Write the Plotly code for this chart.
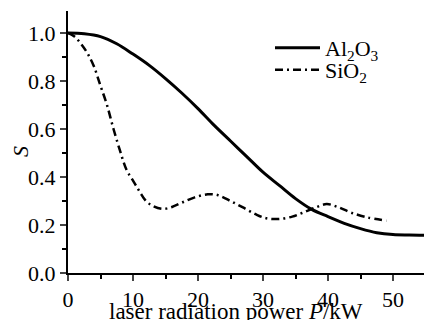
import plotly.graph_objects as go

# Al2O3 (solid)
al_x = [0, 2.5, 5, 7.5, 10, 12.5, 15, 17.5, 20, 22.5, 25, 27.5, 30, 32.5, 35, 37.5, 40, 42.5, 45, 47.5, 50, 52.5, 55]
al_y = [1.0, 0.997, 0.985, 0.955, 0.912, 0.865, 0.81, 0.75, 0.685, 0.615, 0.55, 0.485, 0.42, 0.365, 0.31, 0.265, 0.235, 0.207, 0.185, 0.168, 0.16, 0.158, 0.157]

# SiO2 (dash-dot)
si_x = [0, 1, 2, 3, 4, 5, 6, 7, 8, 9, 10, 11, 12, 13, 14.5, 16, 17.5, 19.5, 21.5, 23, 25, 27, 29, 30.5, 32.5, 34.5, 36, 38, 39.8, 41.5, 43.5, 46, 49]
si_y = [1.0, 0.985, 0.955, 0.915, 0.86, 0.78, 0.7, 0.6, 0.51, 0.43, 0.385, 0.34, 0.3, 0.28, 0.267, 0.275, 0.293, 0.315, 0.328, 0.325, 0.3, 0.272, 0.243, 0.228, 0.225, 0.235, 0.25, 0.272, 0.287, 0.275, 0.252, 0.232, 0.218]

x_ticks = [0, 10, 20, 30, 40, 50]
y_ticks = [0.0, 0.2, 0.4, 0.6, 0.8, 1.0]

x_title = "laser radiation power <i>P</i>/kW"
y_title = "<i>S</i>"

FONT = "Liberation Serif"
L, R, T, B = 68, 0, 11, 47
W, H = 424, 320
PW, PH = W - L - R, H - T - B

fig = go.Figure()
fig.add_trace(go.Scatter(x=al_x, y=al_y, mode="lines", name="Al<sub>2</sub>O<sub>3</sub>",
                         line=dict(color="black", width=3, shape="spline"), legend="legend"))
fig.add_trace(go.Scatter(x=si_x, y=si_y, mode="lines", name="SiO<sub>2</sub>",
                         line=dict(color="black", width=2.5, shape="spline", dash="8px,4px,2px,4px"),
                         legend="legend2"))

leg_common = dict(xanchor="left", yanchor="middle", bgcolor="rgba(0,0,0,0)",
                  font=dict(family=FONT, size=22), itemwidth=45, borderwidth=0)

fig.update_layout(
    width=W, height=H,
    margin=dict(l=L, r=R, t=T, b=B, autoexpand=False),
    paper_bgcolor="white", plot_bgcolor="white",
    font=dict(family=FONT, size=22, color="black"),
    showlegend=True,
    legend=dict(x=(270 - L) / PW, y=(273 - 48) / PH, **leg_common),
    legend2=dict(x=(270 - L) / PW, y=(273 - 70) / PH, **leg_common),
    annotations=[
        dict(text=x_title, xref="paper", yref="paper", x=(236 - L) / PW, y=-B / PH,
             xanchor="center", yanchor="bottom", yshift=-6, showarrow=False,
             font=dict(family=FONT, size=23)),
        dict(text=y_title, xref="paper", yref="paper", x=(20 - L) / PW, y=(273 - 152) / PH,
             xanchor="center", yanchor="middle", textangle=-90, showarrow=False,
             font=dict(family=FONT, size=22)),
    ],
)
fig.update_xaxes(
    range=[0, PW / 6.5], tickvals=x_ticks, ticks="outside", ticklen=6, tickwidth=1.5,
    showline=True, linecolor="black", linewidth=2, showgrid=False, zeroline=False,
    minor=dict(dtick=5, ticks="outside", ticklen=4, tickwidth=1.5, tickcolor="black"),
    tickfont=dict(family=FONT, size=22), automargin=False,
)
fig.update_yaxes(
    range=[0, PH / 240], tickvals=y_ticks, tickformat=".1f", ticks="outside", ticklen=6, tickwidth=1.5,
    showline=True, linecolor="black", linewidth=2, showgrid=False, zeroline=False,
    minor=dict(dtick=0.1, ticks="outside", ticklen=4, tickwidth=1.5, tickcolor="black"),
    tickfont=dict(family=FONT, size=22), automargin=False,
)

fig.write_html("out.html", config={"displayModeBar": False},
               post_script="document.body.style.margin='0';document.body.style.overflow='hidden';")
